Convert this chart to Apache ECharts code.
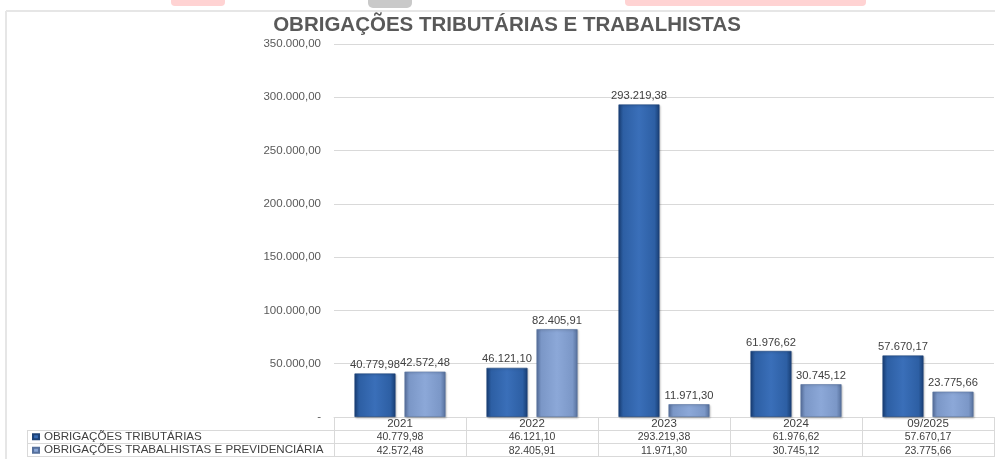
<!DOCTYPE html>
<html>
<head>
<meta charset="utf-8">
<script src="https://cdn.jsdelivr.net/npm/echarts@6/dist/echarts.min.js"></script>
<style>
  html, body { margin: 0; padding: 0; background: #fff; }
  #main { width: 995px; height: 459px; }
</style>
</head>
<body>
<div id="main"></div>
<script>
// dados
var categorias = ['2021', '2022', '2023', '2024', '09/2025'];
var tributarias = [40779.98, 46121.10, 293219.38, 61976.62, 57670.17];
var trabalhistas = [42572.48, 82405.91, 11971.30, 30745.12, 23775.66];
var nomes = ['OBRIGAÇÕES TRIBUTÁRIAS', 'OBRIGAÇÕES TRABALHISTAS E PREVIDENCIÁRIA'];

function fmt(v) {
    return v.toLocaleString('pt-BR', { minimumFractionDigits: 2, maximumFractionDigits: 2 });
}

var fonte = 'Liberation Sans, Arial';
var corEscura = {
    type: 'linear', x: 0, y: 0, x2: 1, y2: 0,
    colorStops: [
        { offset: 0, color: '#1a4179' },
        { offset: 0.12, color: '#2d5fa4' },
        { offset: 0.5, color: '#3a6fb9' },
        { offset: 0.88, color: '#2d5fa4' },
        { offset: 1, color: '#183e74' }
    ]
};
var corClara = {
    type: 'linear', x: 0, y: 0, x2: 1, y2: 0,
    colorStops: [
        { offset: 0, color: '#5a73a1' },
        { offset: 0.12, color: '#7b97c7' },
        { offset: 0.5, color: '#8ca8d8' },
        { offset: 0.88, color: '#7b97c7' },
        { offset: 1, color: '#56709c' }
    ]
};

var myChart = echarts.init(document.getElementById('main'));
var linha = '#d9d9d9';

option = {
    animation: false,
    title: {
        text: 'OBRIGAÇÕES TRIBUTÁRIAS E TRABALHISTAS',
        left: 502, top: 10, textAlign: 'center',
        textStyle: { fontFamily: fonte, fontSize: 20.5, fontWeight: 'bold', color: '#595959' }
    },
    legend: {
        orient: 'vertical',
        left: 32, top: 430,
        padding: 0,
        itemWidth: 6, itemHeight: 5, itemGap: 0,
        icon: 'rect',
        selectedMode: false,
        data: nomes,
        textStyle: { fontFamily: fonte, fontSize: 11.6, color: '#404040', lineHeight: 13.5, padding: [0, 0, 0, 0] }
    },
    grid: { left: 334, right: 1, top: 44, bottom: 42 },
    xAxis: {
        type: 'category',
        data: categorias,
        axisLine: { lineStyle: { color: linha } },
        axisTick: { show: true, length: 40, lineStyle: { color: linha } },
        axisLabel: {
            margin: 0,
            fontFamily: fonte,
            color: '#404040', lineHeight: 13.5,
            formatter: function (v, i) {
                return '{y|' + v + '}\n{v|' + fmt(tributarias[i]) + '}\n{v|' + fmt(trabalhistas[i]) + '}';
            },
            rich: {
                y: { fontFamily: fonte, fontSize: 11.5, color: '#404040', lineHeight: 13.5 },
                v: { fontFamily: fonte, fontSize: 10.5, color: '#404040', lineHeight: 13.5 }
            }
        }
    },
    yAxis: {
        type: 'value',
        min: 0, max: 350000, interval: 50000,
        axisLine: { show: false },
        axisTick: { show: false },
        splitLine: { lineStyle: { color: linha, width: 1 } },
        axisLabel: {
            margin: 13,
            fontFamily: fonte,
            fontSize: 11.5, color: '#595959',
            formatter: function (v) { return v === 0 ? '-' : fmt(v); }
        }
    },
    series: [
        {
            name: nomes[0], type: 'bar', data: tributarias,
            barWidth: 41, barGap: '22%',
            itemStyle: { color: corEscura, borderColor: '#1d4277', borderWidth: 0.6, shadowColor: 'rgba(0,0,0,0.25)', shadowBlur: 2, shadowOffsetX: 1, shadowOffsetY: 1 },
            label: {
                show: true, position: 'top', distance: 3,
                fontFamily: fonte, fontSize: 11.2, color: '#404040',
                formatter: function (p) { return fmt(p.value); }
            }
        },
        {
            name: nomes[1], type: 'bar', data: trabalhistas,
            barWidth: 41,
            itemStyle: { color: corClara, borderColor: '#56709c', borderWidth: 0.6, shadowColor: 'rgba(0,0,0,0.25)', shadowBlur: 2, shadowOffsetX: 1, shadowOffsetY: 1 },
            label: {
                show: true, position: 'top', distance: 3,
                fontFamily: fonte, fontSize: 11.2, color: '#404040',
                formatter: function (p) { return fmt(p.value); }
            }
        }
    ],
    graphic: [
        // moldura
        { type: 'line', shape: { x1: 6, y1: 11, x2: 995, y2: 11 }, style: { stroke: '#e6e6e6', lineWidth: 2 } },
        { type: 'line', shape: { x1: 6, y1: 11, x2: 6, y2: 459 }, style: { stroke: '#e6e6e6', lineWidth: 2 } },
        // restos no topo
        { type: 'rect', shape: { x: 171, y: -4, width: 54, height: 10, r: 4 }, style: { fill: '#ffd3d3' } },
        { type: 'rect', shape: { x: 368, y: -4, width: 44, height: 12, r: 5 }, style: { fill: '#c9c9c9' } },
        { type: 'rect', shape: { x: 625, y: -4, width: 241, height: 10, r: 4 }, style: { fill: '#ffd3d3' } },
        // linhas da tabela
        { type: 'line', shape: { x1: 27, y1: 430.5, x2: 994, y2: 430.5 }, style: { stroke: linha } },
        { type: 'line', shape: { x1: 27, y1: 443.5, x2: 994, y2: 443.5 }, style: { stroke: linha } },
        { type: 'line', shape: { x1: 27, y1: 456.5, x2: 994, y2: 456.5 }, style: { stroke: linha } },
        { type: 'line', shape: { x1: 27.5, y1: 430, x2: 27.5, y2: 457 }, style: { stroke: linha } }
    ]
};
myChart.setOption(option);
</script>
</body>
</html>
